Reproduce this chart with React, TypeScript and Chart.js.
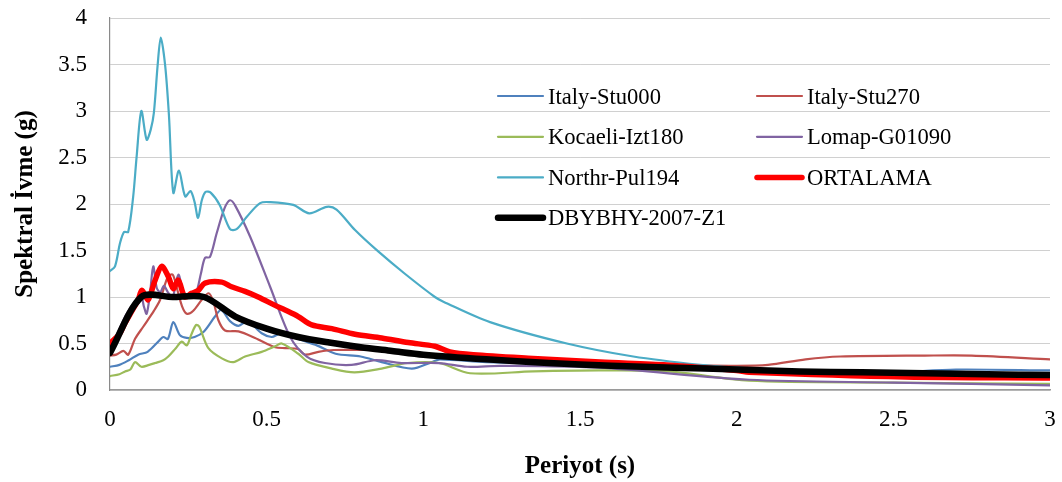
import { useEffect, useRef } from "react";
import { Chart, registerables } from "chart.js";

Chart.register(...registerables);

// Periods (s) and spectral accelerations (g) for each record
const stu000T = [0, 0.03, 0.06, 0.09, 0.12, 0.154, 0.17, 0.185, 0.202, 0.223, 0.245, 0.27, 0.3, 0.335, 0.355, 0.383, 0.41, 0.44, 0.484, 0.516, 0.537, 0.564, 0.6, 0.66, 0.72, 0.8, 0.867, 0.963, 1.027, 1.053, 1.2, 1.5, 2.0, 2.2, 2.5, 2.7, 3.0];
const stu000 = [0.25, 0.27, 0.32, 0.38, 0.41, 0.52, 0.57, 0.55, 0.73, 0.59, 0.56, 0.57, 0.63, 0.79, 0.86, 0.74, 0.69, 0.74, 0.61, 0.57, 0.6, 0.62, 0.55, 0.48, 0.39, 0.36, 0.3, 0.23, 0.3, 0.33, 0.3, 0.27, 0.2, 0.18, 0.19, 0.22, 0.21];

const stu270T = [0, 0.02, 0.043, 0.058, 0.08, 0.106, 0.14, 0.16, 0.185, 0.2, 0.213, 0.23, 0.245, 0.265, 0.293, 0.315, 0.33, 0.346, 0.367, 0.41, 0.463, 0.527, 0.559, 0.6, 0.622, 0.665, 0.713, 0.82, 0.9, 1.0, 1.2, 1.5, 1.8, 2.0, 2.1, 2.22, 2.33, 2.6, 2.75, 3.0];
const stu270 = [0.37, 0.38, 0.42, 0.38, 0.55, 0.68, 0.85, 0.97, 1.22, 1.24, 1.1, 0.9, 0.82, 0.85, 0.97, 1.04, 0.95, 0.75, 0.64, 0.63, 0.56, 0.46, 0.45, 0.44, 0.38, 0.41, 0.43, 0.43, 0.42, 0.38, 0.33, 0.3, 0.27, 0.26, 0.27, 0.33, 0.36, 0.37, 0.37, 0.33];

const izt180T = [0, 0.03, 0.048, 0.065, 0.08, 0.1, 0.125, 0.144, 0.17, 0.186, 0.21, 0.229, 0.245, 0.26, 0.275, 0.285, 0.314, 0.357, 0.394, 0.431, 0.484, 0.527, 0.548, 0.601, 0.633, 0.708, 0.78, 0.867, 0.95, 1.05, 1.149, 1.35, 1.56, 1.78, 2.04, 2.5, 3.0];
const izt180 = [0.15, 0.17, 0.2, 0.22, 0.3, 0.25, 0.27, 0.29, 0.32, 0.36, 0.45, 0.52, 0.48, 0.6, 0.7, 0.68, 0.45, 0.34, 0.3, 0.36, 0.41, 0.47, 0.5, 0.39, 0.3, 0.23, 0.19, 0.23, 0.29, 0.29, 0.18, 0.2, 0.21, 0.2, 0.1, 0.08, 0.065];

const g01090T = [0, 0.05, 0.08, 0.1, 0.108, 0.117, 0.128, 0.138, 0.149, 0.16, 0.172, 0.185, 0.2, 0.218, 0.235, 0.255, 0.275, 0.29, 0.303, 0.319, 0.34, 0.365, 0.383, 0.4, 0.447, 0.511, 0.575, 0.628, 0.686, 0.771, 0.846, 0.93, 1.05, 1.14, 1.245, 1.56, 2.04, 2.5, 3.0];
const g01090 = [0.42, 0.8, 0.95, 1.0, 0.9, 0.82, 1.05, 1.33, 1.1, 1.05, 1.12, 1.05, 1.0, 1.24, 1.05, 1.0, 1.05, 1.25, 1.42, 1.43, 1.68, 1.95, 2.04, 1.98, 1.65, 1.11, 0.57, 0.36, 0.29, 0.27, 0.32, 0.29, 0.29, 0.25, 0.26, 0.24, 0.11, 0.08, 0.05];

const pul194T = [0, 0.016, 0.032, 0.045, 0.058, 0.074, 0.085, 0.1, 0.117, 0.13, 0.14, 0.152, 0.162, 0.176, 0.188, 0.202, 0.22, 0.24, 0.257, 0.27, 0.281, 0.293, 0.305, 0.322, 0.35, 0.383, 0.404, 0.436, 0.479, 0.511, 0.585, 0.636, 0.692, 0.723, 0.782, 0.856, 0.941, 1.037, 1.064, 1.213, 1.458, 1.67, 1.883, 2.0, 2.3, 2.6, 3.0];
const pul194 = [1.28, 1.33, 1.58, 1.7, 1.7, 2.08, 2.51, 3.0, 2.69, 2.8, 2.98, 3.49, 3.79, 3.49, 2.96, 2.12, 2.36, 2.08, 2.14, 2.02, 1.85, 2.04, 2.13, 2.12, 1.99, 1.73, 1.73, 1.86, 2.01, 2.02, 1.99, 1.9, 1.97, 1.94, 1.72, 1.49, 1.25, 1.0, 0.95, 0.73, 0.5, 0.36, 0.27, 0.24, 0.18, 0.14, 0.12];

const meanT = [0, 0.03, 0.048, 0.07, 0.09, 0.101, 0.112, 0.122, 0.144, 0.165, 0.186, 0.202, 0.218, 0.239, 0.26, 0.282, 0.303, 0.357, 0.388, 0.431, 0.473, 0.527, 0.559, 0.601, 0.644, 0.708, 0.782, 0.867, 0.952, 1.037, 1.085, 1.16, 1.35, 1.564, 1.777, 2.0, 2.04, 2.54, 3.0];
const mean = [0.5, 0.6, 0.72, 0.85, 0.97, 1.07, 1.02, 0.97, 1.18, 1.33, 1.22, 1.09, 1.18, 1.0, 1.04, 1.07, 1.15, 1.16, 1.11, 1.06, 1.0, 0.91, 0.86, 0.79, 0.7, 0.66, 0.6, 0.56, 0.51, 0.47, 0.41, 0.38, 0.34, 0.3, 0.27, 0.21, 0.19, 0.14, 0.13];

const designT = [0, 0.1, 0.2, 0.3, 0.4, 0.5, 0.6, 0.7, 0.8, 0.9, 1.0, 1.2, 1.4, 1.6, 1.8, 2.0, 2.2, 2.4, 2.6, 2.8, 3.0];
const design = [0.4, 1.0, 1.0, 1.0, 0.79, 0.66, 0.57, 0.51, 0.46, 0.42, 0.38, 0.33, 0.29, 0.26, 0.24, 0.22, 0.2, 0.19, 0.18, 0.17, 0.16];

const seriesLabels = ["Italy-Stu000", "Italy-Stu270", "Kocaeli-Izt180", "Lomap-G01090", "Northr-Pul194", "ORTALAMA", "DBYBHY-2007-Z1"];
const seriesColors = ["#4F81BD", "#C0504D", "#9BBB59", "#8064A2", "#4BACC6", "#FF0000", "#000000"];
const seriesWidths = [2.2, 2.2, 2.2, 2.2, 2.2, 5.5, 6.5];
const seriesPeriods = [stu000T, stu270T, izt180T, g01090T, pul194T, meanT, designT];
const seriesValues = [stu000, stu270, izt180, g01090, pul194, mean, design];

const SERIF = "'Liberation Serif', 'Times New Roman', serif";

const toPoints = (t: number[], v: number[]) => t.map((x, i) => ({ x, y: v[i] }));

// Two-column legend drawn inside the plot area
const insideLegend = {
  id: "insideLegend",
  afterDatasetsDraw(chart: any) {
    const { ctx, chartArea } = chart;
    const colX = [chartArea.left + 388, chartArea.left + 647];
    const rowY = [78, 118.8, 159.4, 199.8].map((d) => chartArea.top + d);
    ctx.save();
    ctx.font = `22.6px ${SERIF}`;
    ctx.textBaseline = "alphabetic";
    ctx.textAlign = "left";
    chart.data.datasets.forEach((ds: any, i: number) => {
      const cx = colX[i % 2];
      const cy = rowY[Math.floor(i / 2)];
      ctx.strokeStyle = ds.borderColor;
      ctx.lineWidth = ds.borderWidth;
      ctx.lineCap = "round";
      ctx.beginPath();
      ctx.moveTo(cx, cy);
      ctx.lineTo(cx + 45, cy);
      ctx.stroke();
      ctx.fillStyle = "#000";
      ctx.fillText(ds.label, cx + 50, cy + 7.5);
    });
    ctx.restore();
  },
};

export default function App() {
  const canvasRef = useRef<HTMLCanvasElement | null>(null);

  useEffect(() => {
    const canvas = canvasRef.current;
    if (!canvas) return;
    const datasets = seriesLabels.map((label, i) => ({
      label,
      data: toPoints(seriesPeriods[i], seriesValues[i]),
      borderColor: seriesColors[i],
      backgroundColor: seriesColors[i],
      borderWidth: seriesWidths[i],
      pointRadius: 0,
      tension: 0.3,
      fill: false,
      order: seriesLabels.length - i,
      borderCapStyle: "round" as const,
      borderJoinStyle: "round" as const,
    }));

    const chart = new Chart(canvas, {
      type: "line",
      data: { datasets },
      plugins: [insideLegend],
      options: {
        responsive: false,
        animation: false,
        devicePixelRatio: 1,
        layout: { padding: { left: 0, top: 18, right: 12, bottom: 0 } },
        plugins: {
          legend: { display: false },
          tooltip: { enabled: false },
        },
        scales: {
          x: {
            type: "linear",
            min: 0,
            max: 3,
            afterFit: (s: any) => {
              s.height = 92;
              s.paddingLeft = 0;
              s.paddingRight = 0;
            },
            ticks: {
              stepSize: 0.5,
              padding: 8,
              color: "#000",
              font: { family: SERIF, size: 23 },
              maxRotation: 0,
              callback: (v: any) => String(Math.round(Number(v) * 10) / 10),
            },
            grid: { display: false },
            border: { display: true, color: "#9a9a9a", width: 1.5 },
            title: {
              display: true,
              text: "Periyot (s)",
              color: "#000",
              font: { family: SERIF, size: 25, weight: "bold" },
              padding: { top: 0, bottom: 0 },
            },
          },
          y: {
            type: "linear",
            min: 0,
            max: 4,
            afterFit: (s: any) => {
              s.width = 110;
              s.paddingTop = 0;
              s.paddingBottom = 0;
            },
            ticks: {
              stepSize: 0.5,
              padding: 23,
              color: "#000",
              font: { family: SERIF, size: 23 },
              callback: (v: any) => String(Math.round(Number(v) * 10) / 10),
            },
            grid: { color: "#d0d0d0", lineWidth: 1, drawTicks: false },
            border: { display: true, color: "#8a8a8a", width: 1.2 },
            title: {
              display: true,
              text: "Spektral İvme (g)",
              color: "#000",
              font: { family: SERIF, size: 25, weight: "bold" },
              padding: { top: 11, bottom: 0 },
            },
          },
        },
      },
    });
    return () => chart.destroy();
  }, []);

  return (
    <div style={{ position: "absolute", left: 0, top: 0, width: 1062, height: 482, background: "#fff" }}>
      <canvas ref={canvasRef} width={1062} height={482} />
    </div>
  );
}
